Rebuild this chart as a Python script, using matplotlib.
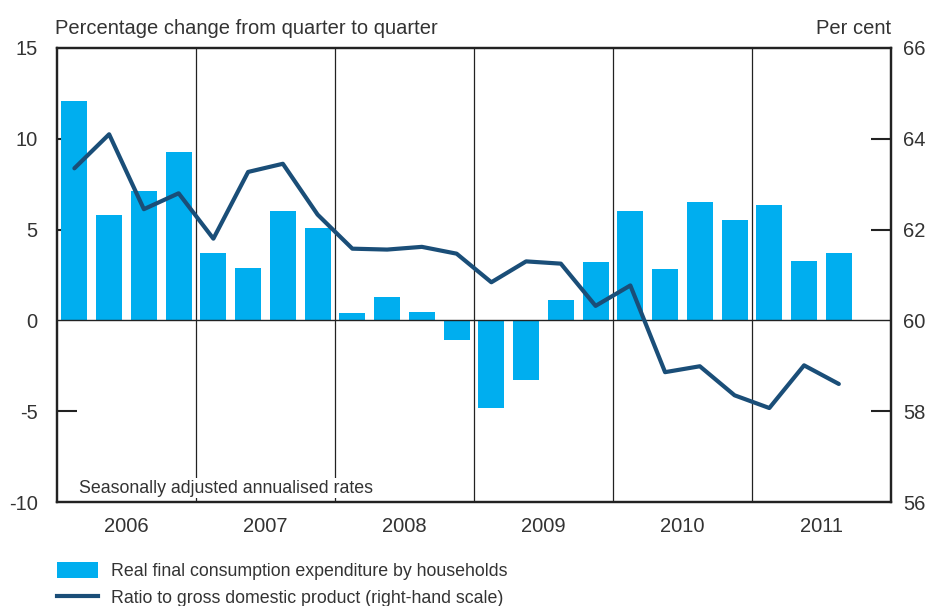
import matplotlib.pyplot as plt
from matplotlib.patches import Patch
from matplotlib.lines import Line2D
import numpy as np

years = ['2006', '2007', '2008', '2009', '2010', '2011']
# quarterly, 2006 Q1 .. 2011 Q3
consumption = [12.1, 5.8, 7.1, 9.3,
               3.7, 2.9, 6.0, 5.1,
               0.4, 1.3, 0.45, -1.1,
               -4.8, -3.3, 1.1, 3.2,
               6.0, 2.85, 6.5, 5.55,
               6.35, 3.25, 3.7]
ratio_gdp = [63.35, 64.1, 62.45, 62.8,
             61.8, 63.27, 63.45, 62.33,
             61.58, 61.56, 61.62, 61.47,
             60.84, 61.3, 61.25, 60.32,
             60.77, 58.86, 58.99, 58.35,
             58.07, 59.01, 58.6]

bar_col = '#00AEEF'
line_col = '#1A4E78'
txt_col = '#333333'

plt.rcParams['font.family'] = ['Liberation Sans', 'DejaVu Sans']
plt.rcParams['axes.unicode_minus'] = False

fig = plt.figure(figsize=(9.3, 6.06), dpi=100)
ax = fig.add_axes([0.0613, 0.1716, 0.8967, 0.7492])
ax2 = ax.twinx()

x = np.arange(len(consumption)) + 0.5
ax.bar(x, consumption, width=0.75, color=bar_col, zorder=2)
ax.axhline(0, color='#222222', lw=1, zorder=3)
for b in range(4, 24, 4):
    ax.axvline(b, color='#222222', lw=0.9, zorder=1)

ax2.plot(x, ratio_gdp, color=line_col, lw=3, zorder=4, solid_capstyle='round')

ax.set_xlim(0, 24)
ax.set_ylim(-10, 15)
ax2.set_ylim(56, 66)

ax.set_yticks([-10, -5, 0, 5, 10, 15])
ax2.set_yticks([56, 58, 60, 62, 64, 66])
ax.set_xticks([2, 6, 10, 14, 18, 22])
ax.set_xticklabels(years)
ax.tick_params(axis='x', length=0, pad=11, labelsize=14.5, colors=txt_col)
ax.tick_params(axis='y', direction='in', length=14.5, width=1.5, pad=14,
               labelsize=14.5, colors='#222222', labelcolor=txt_col)
ax2.tick_params(axis='y', direction='in', length=14.5, width=1.5, pad=9,
                labelsize=14.5, colors='#222222', labelcolor=txt_col)
# hide tick marks at ends and zero
for ticks in (ax.yaxis.get_major_ticks(), ax2.yaxis.get_major_ticks()):
    for i in (0, 2, 5):
        ticks[i].tick1line.set_visible(False)
        ticks[i].tick2line.set_visible(False)

for a in (ax, ax2):
    for s in a.spines.values():
        s.set_color('#222222')
        s.set_linewidth(1.6)

ax.text(-0.003, 1.022, 'Percentage change from quarter to quarter', transform=ax.transAxes,
        fontsize=14.5, color=txt_col, ha='left', va='bottom')
ax.text(1.0, 1.022, 'Per cent', transform=ax.transAxes,
        fontsize=14.5, color=txt_col, ha='right', va='bottom')
ax.text(0.026, 0.012, 'Seasonally adjusted annualised rates', transform=ax.transAxes,
        fontsize=12.8, color=txt_col, ha='left', va='bottom',
        bbox=dict(facecolor='white', edgecolor='none', pad=1))

handles = [Patch(facecolor=bar_col, edgecolor='none'),
           Line2D([0], [0], color=line_col, lw=3)]
labels = ['Real final consumption expenditure by households',
          'Ratio to gross domestic product (right-hand scale)']
fig.legend(handles, labels, loc='upper left', bbox_to_anchor=(0.061, 0.072),
           frameon=False, fontsize=12.8, handlelength=2.3, handleheight=1.0,
           handletextpad=0.75, labelspacing=0.5, borderaxespad=0, borderpad=0,
           labelcolor=txt_col)

fig.savefig('out.png', dpi=100)
